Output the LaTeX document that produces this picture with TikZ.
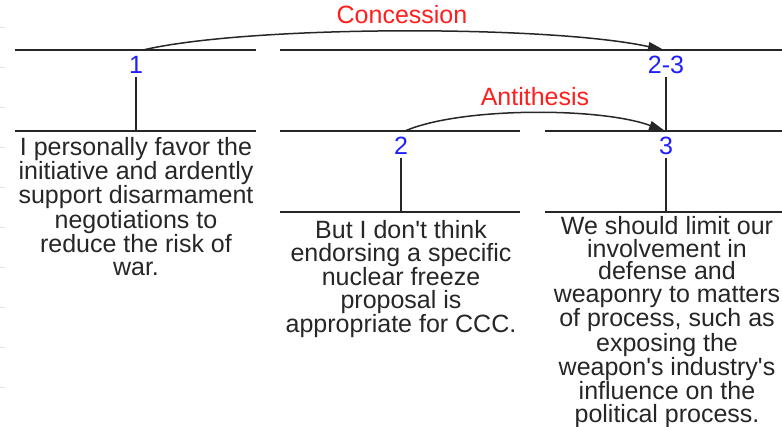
\documentclass[tikz,border=0pt]{standalone}
\usepackage{fontspec}
\setmainfont{Liberation Sans}
\usetikzlibrary{arrows.meta}
\definecolor{spanblue}{RGB}{30,30,255}
\definecolor{relred}{RGB}{255,30,30}
\newcommand{\apo}{\textquotesingle}
\begin{document}
\begin{tikzpicture}[x=1pt,y=-1pt,
  bar/.style={line width=1.6pt,black!85},
  stem/.style={line width=1.6pt,black!85},
  relarc/.style={line width=1.5pt,black!85,-{Triangle[length=16pt,width=9pt]}},
  spanlbl/.style={text=spanblue,inner sep=0pt,font=\fontsize{25}{25}\selectfont},
  rellbl/.style={text=relred,inner sep=0pt,font=\fontsize{25}{25}\selectfont},
  segtext/.style={align=center,inner sep=0pt,anchor=north,text=black!85,
    font=\fontsize{25}{23}\selectfont},
  tick/.style={line width=0.8pt,black!10}]
\useasboundingbox (0,0) rectangle (782,427);

% faint ruler ticks on the left edge
\foreach \ty in {27,67,107,147,187,227,267,307,347,387}
  \draw[tick] (0,\ty) -- (5,\ty);

% span 1
\draw[bar] (15,50) -- (256,50);
\node[spanlbl] (n1) at (136,65) {1};
\coordinate (s1top) at (136,77);
\coordinate (s1bot) at (136,131);
\draw[stem] (s1top) -- (s1bot);
\draw[bar] (15,131) -- (256,131);
\node[segtext] (t1) at (136,137) {I personally favor the\\initiative and ardently\\support disarmament\\negotiations to\\reduce the risk of\\war.};

% span 2-3
\draw[bar] (280,50) -- (782,50);
\node[spanlbl] (n23) at (666,65) {2-3};
\coordinate (s23top) at (666,77);
\coordinate (s23bot) at (666,131);
\draw[stem] (s23top) -- (s23bot);

% span 2
\draw[bar] (280,131) -- (520,131);
\node[spanlbl] (n2) at (401,146) {2};
\coordinate (s2top) at (401,158);
\coordinate (s2bot) at (401,212);
\draw[stem] (s2top) -- (s2bot);
\draw[bar] (280,212) -- (520,212);
\node[segtext] (t2) at (401,220) {But I don\apo t think\\endorsing a specific\\nuclear freeze\\proposal is\\appropriate for CCC.};

% span 3
\draw[bar] (545,131) -- (782,131);
\node[spanlbl] (n3) at (666,146) {3};
\coordinate (s3top) at (666,158);
\coordinate (s3bot) at (666,212);
\draw[stem] (s3top) -- (s3bot);
\draw[bar] (545,212) -- (782,212);
\node[segtext,font=\fontsize{25}{22.7}\selectfont] (t3) at (667,216) {We should limit our\\involvement in\\defense and\\weaponry to matters\\of process, such as\\exposing the\\weapon\apo s industry\apo s\\influence on the\\political process.};

% relations
\coordinate (c1) at (143,50);
\coordinate (c23) at (664,50);
\draw[relarc] (c1) .. controls (250,25) and (550,25) .. (c23);
\node[rellbl] (lc) at (402,15) {Concession};

\coordinate (a2) at (405,131);
\coordinate (a3) at (665,131);
\draw[relarc] (a2) .. controls (460,107) and (600,107) .. (a3);
\node[rellbl] (la) at (535,97) {Antithesis};
\end{tikzpicture}
\end{document}
